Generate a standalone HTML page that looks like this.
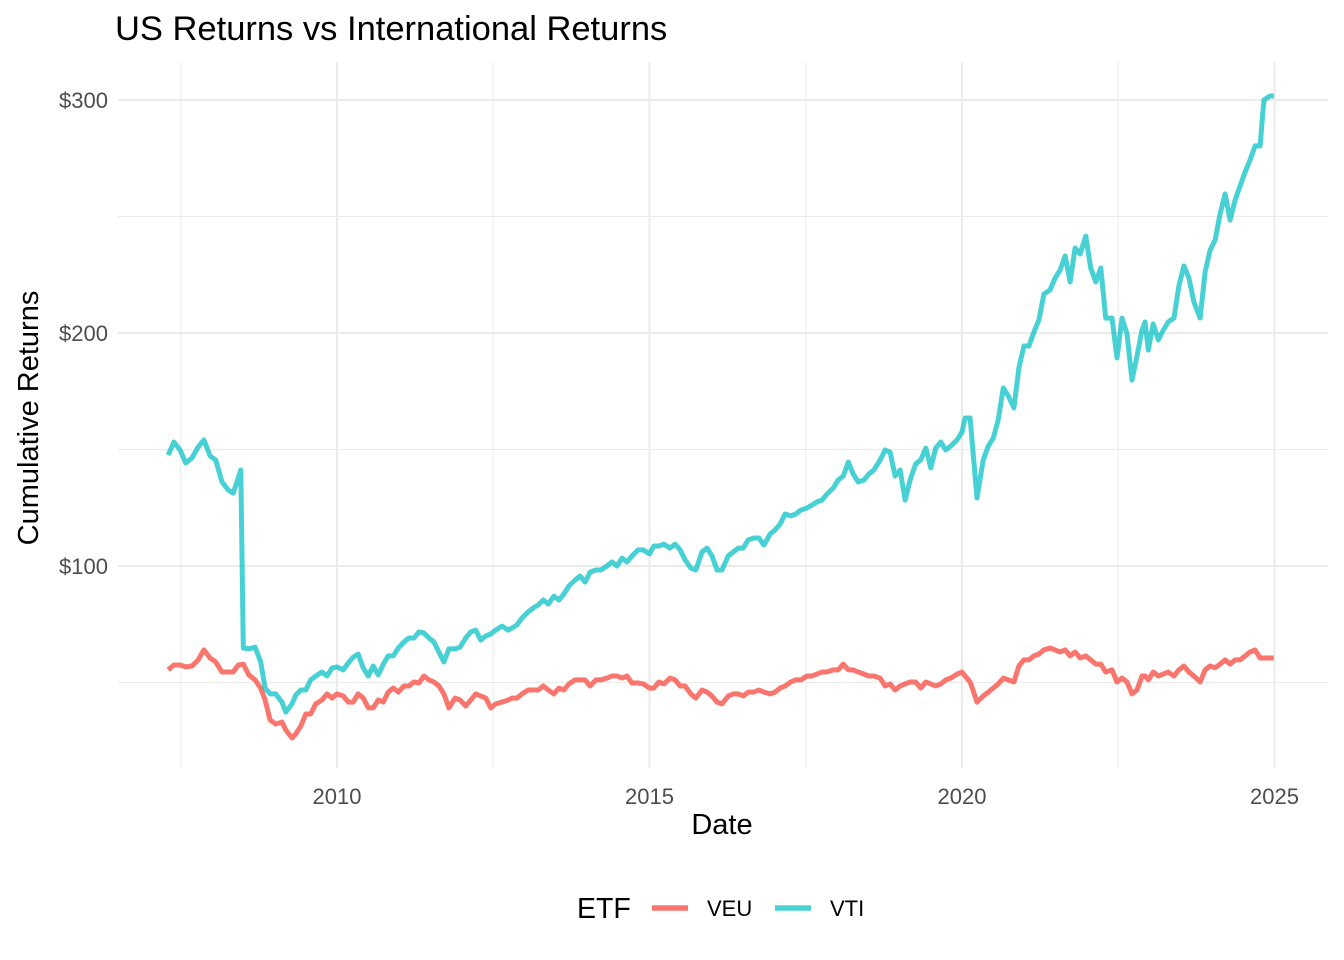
<!DOCTYPE html>
<html><head><meta charset="utf-8"><style>
html,body{margin:0;padding:0;background:#fff;}
svg{display:block;font-family:"Liberation Sans",Arial,sans-serif;}
</style></head><body>
<svg id="chart" width="1344" height="960" viewBox="0 0 1344 960">
<text x="115" y="40" font-size="34.5" fill="#000">US Returns vs International Returns</text>
<g id="grid"></g>
<g id="yticks"></g>
<g id="xticks"></g>
<g id="lines"></g>
<text x="722" y="834" font-size="29" text-anchor="middle">Date</text>
<text transform="translate(38,418) rotate(-90)" font-size="29" text-anchor="middle">Cumulative Returns</text>
<g>
<text x="577" y="918" font-size="28.5">ETF</text>
<line x1="652" y1="908" x2="688" y2="908" stroke="#F8766D" stroke-width="5.5"/>
<text x="707" y="916" font-size="22">VEU</text>
<line x1="775" y1="908" x2="811" y2="908" stroke="#00BFC4" stroke-opacity="0.72" stroke-width="5.5"/>
<text x="830" y="916" font-size="22">VTI</text>
</g>
</svg>
<script>
const dates=[2007.30,2007.39,2007.49,2007.58,2007.68,2007.78,2007.87,2007.97,2008.06,2008.16,2008.26,2008.34,2008.42,2008.46,2008.50,2008.59,2008.69,2008.78,2008.85,2008.93,2009.02,2009.12,2009.18,2009.28,2009.34,2009.42,2009.50,2009.58,2009.66,2009.76,2009.84,2009.92,2010.00,2010.10,2010.18,2010.26,2010.34,2010.42,2010.50,2010.58,2010.66,2010.74,2010.82,2010.90,2010.98,2011.07,2011.15,2011.23,2011.31,2011.39,2011.47,2011.55,2011.63,2011.71,2011.79,2011.89,2011.97,2012.06,2012.14,2012.22,2012.30,2012.38,2012.46,2012.54,2012.64,2012.74,2012.80,2012.88,2012.96,2013.06,2013.14,2013.22,2013.30,2013.38,2013.47,2013.55,2013.63,2013.71,2013.81,2013.89,2013.97,2014.05,2014.14,2014.22,2014.32,2014.40,2014.48,2014.56,2014.64,2014.72,2014.82,2014.90,2015.00,2015.07,2015.15,2015.23,2015.33,2015.41,2015.49,2015.57,2015.66,2015.74,2015.84,2015.92,2016.00,2016.08,2016.16,2016.26,2016.34,2016.42,2016.50,2016.58,2016.67,2016.75,2016.83,2016.93,2017.01,2017.09,2017.17,2017.26,2017.34,2017.42,2017.52,2017.60,2017.68,2017.76,2017.84,2017.94,2018.02,2018.10,2018.18,2018.26,2018.34,2018.43,2018.51,2018.59,2018.69,2018.77,2018.85,2018.93,2019.01,2019.09,2019.17,2019.26,2019.34,2019.42,2019.50,2019.58,2019.66,2019.74,2019.82,2019.92,2020.00,2020.05,2020.13,2020.16,2020.24,2020.34,2020.42,2020.50,2020.58,2020.66,2020.74,2020.83,2020.91,2020.99,2021.07,2021.15,2021.23,2021.31,2021.41,2021.49,2021.57,2021.65,2021.73,2021.81,2021.89,2021.98,2022.06,2022.14,2022.22,2022.30,2022.40,2022.48,2022.56,2022.64,2022.72,2022.80,2022.88,2022.93,2022.98,2023.06,2023.14,2023.22,2023.30,2023.39,2023.47,2023.55,2023.63,2023.71,2023.81,2023.89,2023.97,2024.05,2024.13,2024.21,2024.29,2024.37,2024.45,2024.53,2024.61,2024.69,2024.77,2024.83,2024.93,2024.99];
const vti=[147.6,153.2,149.8,144.2,146.4,151.1,154.1,147.2,145.5,136.1,132.6,131.3,137.8,141.2,64.8,64.4,65.2,58.8,47.6,45.1,45.1,41.6,37.3,40.8,44.6,46.8,46.8,51.1,52.8,54.5,52.8,56.2,56.7,55.4,58.4,60.9,62.2,56.2,52.8,57.1,53.2,57.9,61.4,61.4,64.8,67.4,69.1,69.1,71.7,71.3,69.1,67.4,63.1,58.8,64.4,64.4,65.2,69.1,71.7,72.5,68.2,70.0,70.8,72.5,74.2,72.5,73.4,74.7,77.7,80.3,82.0,83.3,85.4,83.7,87.1,85.4,88.0,91.4,94.0,95.7,93.1,97.4,98.3,98.3,100,101.7,100,103.4,101.7,104.3,106.9,106.9,105.2,108.6,108.6,109.4,107.7,109.4,106.9,102.6,99.1,98.3,106.0,107.7,104.3,98.3,98.3,104.3,106.0,107.7,107.7,111.2,112.0,112.0,109.0,113.7,115.5,118.0,122.3,121.5,122.3,124.0,124.9,126.2,127.5,128.3,130.9,133.5,136.9,138.6,144.6,139.5,136.1,136.9,139.5,141.2,145.5,149.8,148.9,138.6,141.2,128.3,136.9,143.8,145.5,150.6,142.1,150.6,153.2,149.8,151.5,154.1,157.5,163.5,163.5,154.1,129.2,145.5,151.5,154.9,162.7,176.4,173.0,167.8,185.0,194.4,194.4,200.4,205.6,216.7,218.5,223.6,227.0,233.1,221.9,236.5,233.9,241.6,227.9,221.9,227.9,206.4,206.4,189.3,206.4,199.6,179.8,190.1,201.3,204.7,192.7,203.9,197.0,201.3,204.7,206.4,220.2,228.8,223.6,213.3,206.4,226.2,235.6,239.9,251.1,259.7,248.5,257.1,263.1,269.1,274.3,280.3,280.3,300.0,301.7,301.7];
const veu=[55.4,57.5,57.5,56.7,57.1,59.7,64.0,60.5,58.8,54.5,54.5,54.5,57.5,57.7,57.9,53.2,51.1,47.6,42.5,33.9,32.2,33.0,29.6,26.2,27.9,31.3,36.5,36.5,40.8,42.5,45.1,43.3,45.1,44.2,41.6,41.6,45.1,43.3,39.1,39.1,42.5,41.6,45.9,47.6,45.9,48.5,48.5,50.2,49.8,52.8,51.1,50.2,48.5,45.1,39.1,43.3,42.5,39.9,42.5,45.1,44.2,43.3,39.1,40.8,41.6,42.5,43.3,43.3,45.1,46.8,46.8,46.8,48.5,46.8,45.1,47.6,46.8,49.4,51.1,51.1,51.1,48.5,51.1,51.1,51.9,52.8,52.8,51.9,52.8,49.8,49.8,49.4,47.6,47.6,50.2,49.4,51.9,51.1,48.5,48.5,45.1,43.3,46.8,45.9,44.2,41.6,40.8,44.2,45.1,45.1,44.2,45.9,45.9,46.8,45.9,45.1,45.9,47.6,48.5,50.2,51.1,51.1,52.8,52.8,53.6,54.5,54.5,55.4,55.4,57.9,55.4,55.4,54.5,53.6,52.8,52.8,51.9,48.5,49.4,46.8,48.5,49.4,50.2,50.2,47.6,50.2,49.4,48.5,49.4,51.1,51.9,53.6,54.5,52.8,50.2,48.0,41.6,44.2,45.9,47.6,49.4,51.9,51.1,50.2,57.1,59.7,59.7,61.4,62.2,64.0,64.8,64.0,63.1,64.0,61.4,63.1,60.5,61.4,59.7,57.9,57.9,54.5,55.4,50.2,51.9,50.2,45.1,46.8,52.8,52.8,51.1,54.5,52.8,53.6,54.5,52.8,55.4,57.1,54.5,52.8,50.2,55.4,57.1,56.3,57.9,59.7,57.9,59.7,59.7,61.4,63.1,64.0,60.5,60.5,60.5,60.5];
const yTicks=[100,200,300];
const yLabels=["$100","$200","$300"];
const yMinor=[50,150,250];
const xTicks=[2010,2015,2020,2025];
const xLabels=["2010","2015","2020","2025"];
const xMinor=[2007.5,2012.5,2017.5,2022.5];

const NS="http://www.w3.org/2000/svg";
const L=118,R=1328,T=62,B=768;
function xs(v){return 337+(v-2010)*62.5;}
function ys(v){return 566-(v-100)*2.33;}
function mk(tag,attrs,parent){const e=document.createElementNS(NS,tag);for(const k in attrs)e.setAttribute(k,attrs[k]);parent.appendChild(e);return e;}
const grid=document.getElementById('grid');
yMinor.forEach(v=>{const e=mk('line',{x1:L,x2:R,y1:ys(v),y2:ys(v),stroke:'#ebebeb','stroke-width':1},grid);

});
xMinor.forEach(v=>{const e=mk('line',{x1:xs(v),x2:xs(v),y1:T,y2:B,stroke:'#ebebeb','stroke-width':1},grid);

});
yTicks.forEach(v=>{const e=mk('line',{x1:L,x2:R,y1:ys(v),y2:ys(v),stroke:'#ebebeb','stroke-width':2},grid);

});
xTicks.forEach(v=>{const e=mk('line',{x1:xs(v),x2:xs(v),y1:T,y2:B,stroke:'#ebebeb','stroke-width':2},grid);

});
const yt=document.getElementById('yticks');
yTicks.forEach((v,i)=>{const t=mk('text',{x:108,y:ys(v)+8,'text-anchor':'end','font-size':22,fill:'#4d4d4d'},yt);t.textContent=yLabels[i];

});
const xt=document.getElementById('xticks');
xTicks.forEach((v,i)=>{const t=mk('text',{x:xs(v),y:804,'text-anchor':'middle','font-size':22,fill:'#4d4d4d'},xt);t.textContent=xLabels[i];

});
const lines=document.getElementById('lines');
function path(vals){return vals.map((v,i)=>(i?'L':'M')+xs(dates[i]).toFixed(1)+','+ys(v).toFixed(1)).join('');}
const p1=mk('path',{d:path(veu),fill:'none',stroke:'#F8766D','stroke-width':5,'stroke-linejoin':'round'},lines);


const p2=mk('path',{d:path(vti),fill:'none',stroke:'#00BFC4','stroke-opacity':0.72,'stroke-width':5,'stroke-linejoin':'round'},lines);


</script>
</body></html>
